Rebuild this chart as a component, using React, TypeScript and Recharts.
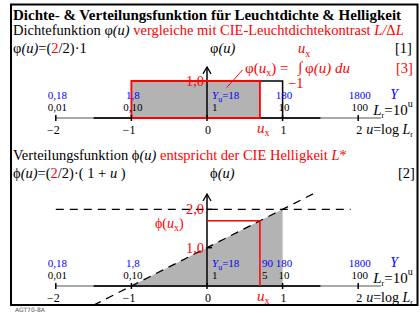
import React from 'react';
import { ComposedChart, Line, Area, XAxis, YAxis, ReferenceDot } from 'recharts';

const FONT = "'Liberation Serif', 'Times New Roman', serif";
const RED = '#ff0000';
const BLUE = '#0000ff';
const GRAY = '#b3b3b3';

// u = log L_r, shared by both panels
const uTicks = [-2, -1, 0, 1, 2];
const uLabels = ['−2', '−1', '0', '1', '2'];
const lumLabels = ['0,01', '0,10', '1', '10', '100'];
const yLabels = ['0,18', '1,8', '18', '180', '1800'];

// chosen u_x = log 5
const ux = 0.7;
const uxLum = '5';
const uxY = '90';

// axis line, thin outer part and thick middle part
const axisThin = [{ u: -2, v: 0 }, { u: 2.3, v: 0 }];
const axisThick = [{ u: -1.5, v: 0 }, { u: 1.5, v: 0 }];

// panel [1]: density phi(u) = 1 on -1..1
const densityFill = [{ u: -1, v: 1 }, { u: ux, v: 1 }];
const densityRed = [
  { u: -1, v: 0 }, { u: -1, v: 1 }, { u: ux, v: 1 }, { u: ux, v: 0 }, { u: -1, v: 0 },
];
const densityBlack = [{ u: ux, v: 1 }, { u: 1, v: 1 }, { u: 1, v: 0 }];
const densityArrow = [{ u: 0, v: 0 }, { u: 0, v: 1.38 }];
const densityPointer = [{ u: 0.26, v: 0.82 }, { u: 0.47, v: 1.3 }];

// panel [2]: distribution phi(u) = 1 + u
const distFill = [{ u: -1, v: 0 }, { u: 1, v: 2 }];
const distDashed = [{ u: -1.5, v: -0.5 }, { u: 1.45, v: 2.45 }];
const distLevel = [{ u: -2, v: 2 }, { u: 1.9, v: 2 }];
const distGuide = [{ u: 0, v: 1.7 }, { u: ux, v: 1.7 }, { u: ux, v: 0 }];
const distArrow = [{ u: 0, v: 0 }, { u: 0, v: 2.4 }];

const AxisTick = (props: any) => {
  const { cx, cy, i } = props;
  const zero = uTicks[i] === 0;
  const tx = zero ? cx + 5 : cx + 1.5;
  const anchor = zero ? 'start' : 'middle';
  const neg = uTicks[i] < 0;
  return (
    <g fontFamily={FONT}>
      <line x1={cx} y1={cy - 3} x2={cx} y2={cy + 3} stroke="#000" strokeWidth={1.5} />
      <text x={tx} y={cy - 19} fontSize={11} fill={BLUE} textAnchor={anchor}>
        {zero ? (
          <>
            <tspan fontStyle="italic">Y</tspan>
            <tspan fontSize={8} dy={3}>u</tspan>
            <tspan dy={-3}>={yLabels[i]}</tspan>
          </>
        ) : yLabels[i]}
      </text>
      <text x={tx} y={cy - 7} fontSize={11} fill="#000" textAnchor={anchor}>{lumLabels[i]}</text>
      <text x={neg ? cx + 4 : cx + 1} y={cy + 16} fontSize={12} fill="#000" textAnchor={neg ? 'end' : 'middle'}>
        {uLabels[i]}
      </text>
    </g>
  );
};

const UxMark = (props: any) => {
  const { cx, cy, withValues } = props;
  return (
    <g fontFamily={FONT}>
      {withValues && (
        <>
          <text x={cx + 2} y={cy - 19} fontSize={11} fill={BLUE}>{uxY}</text>
          <text x={cx + 2} y={cy - 7} fontSize={11} fill="#000">{uxLum}</text>
        </>
      )}
      <text x={cx - 3} y={cy + 15} fontSize={15} fill={RED}>
        <tspan fontStyle="italic">u</tspan>
        <tspan fontSize={10} dy={3}>x</tspan>
      </text>
    </g>
  );
};

const AxisTitles = (props: any) => {
  const { cx, cy } = props;
  return (
    <g fontFamily={FONT}>
      <text x={cx + 32} y={cy - 19} fontSize={14} fill={BLUE} fontStyle="italic">Y</text>
      <text x={cx + 15} y={cy - 3} fontSize={15} fill="#000">
        <tspan fontStyle="italic">L</tspan>
        <tspan fontSize={8} dy={3}>r</tspan>
        <tspan dy={-3}>=10</tspan>
        <tspan fontSize={10} dy={-8}>u</tspan>
      </text>
      <text x={cx + 8} y={cy + 16} fontSize={14} fill="#000">
        <tspan fontStyle="italic">u</tspan>
        <tspan>=log </tspan>
        <tspan fontStyle="italic">L</tspan>
        <tspan fontSize={8} dy={3}>r</tspan>
      </text>
    </g>
  );
};

const ArrowHead = (props: any) => {
  const { cx, cy } = props;
  return <path d={`M${cx - 4},${cy + 7} L${cx},${cy} L${cx + 4},${cy + 7}`} stroke="#000" strokeWidth={1.3} fill="none" />;
};

const LevelLabel = (props: any) => {
  const { cx, cy, text, tick } = props;
  return (
    <g fontFamily={FONT}>
      {tick && <line x1={cx} y1={cy} x2={cx + 5} y2={cy} stroke="#000" strokeWidth={1.5} />}
      <text x={cx - 3} y={cy + 5} fontSize={14.5} fill={RED} textAnchor="end">{text}</text>
    </g>
  );
};

const PhiUxLabel = (props: any) => {
  const { cx, cy } = props;
  return (
    <text x={cx - 52} y={cy + 7} fontSize={14} fill={RED} fontFamily={FONT}>
      ϕ(<tspan fontStyle="italic">u</tspan>
      <tspan fontSize={10} dy={3}>x</tspan>
      <tspan dy={-3}>)</tspan>
    </text>
  );
};

const axes = (domain: [number, number]) => [
  <XAxis key="x" type="number" dataKey="u" domain={[-2.5, 2.5]} allowDataOverflow hide height={0} />,
  <YAxis key="y" type="number" dataKey="v" domain={domain} allowDataOverflow hide width={0} />,
];

const line = (key: string, data: any[], stroke: string, width: number, dash?: string) => (
  <Line
    key={key}
    data={data}
    dataKey="v"
    type="linear"
    stroke={stroke}
    strokeWidth={width}
    strokeDasharray={dash}
    dot={false}
    activeDot={false}
    isAnimationActive={false}
  />
);

const ticks = (withUx: boolean) => [
  ...uTicks.map((u, i) => (
    <ReferenceDot key={`t${i}`} x={u} y={0} r={0} shape={(p: any) => <AxisTick {...p} i={i} />} />
  )),
  <ReferenceDot key="ux" x={ux} y={0} r={0} shape={(p: any) => <UxMark {...p} withValues={withUx} />} />,
  <ReferenceDot key="titles" x={2} y={0} r={0} shape={(p: any) => <AxisTitles {...p} />} />,
];

const DensityChart = () => (
  <ComposedChart width={420} height={160} margin={{ top: 7, right: 24, bottom: 5, left: 18 }}>
    {axes([-1, 3])}
    <Area data={densityFill} dataKey="v" type="linear" baseValue={0} fill={GRAY} fillOpacity={1} stroke="none" isAnimationActive={false} />
    {line('thin', axisThin, '#555', 1.2)}
    {line('thick', axisThick, '#222', 2)}
    {line('black', densityBlack, '#000', 1.5)}
    {line('arrow', densityArrow, '#000', 1.5)}
    {line('red', densityRed, RED, 1.8)}
    {line('pointer', densityPointer, RED, 1)}
    {ticks(false)}
    <ReferenceDot x={0} y={1.38} r={0} shape={(p: any) => <ArrowHead {...p} />} />
    <ReferenceDot x={0} y={1} r={0} shape={(p: any) => <LevelLabel {...p} text="1,0" />} />
  </ComposedChart>
);

const DistributionChart = () => (
  <ComposedChart width={420} height={163} margin={{ top: 21, right: 24, bottom: 4, left: 18 }}>
    {axes([-0.6, 3])}
    <Area data={distFill} dataKey="v" type="linear" baseValue={0} fill={GRAY} fillOpacity={1} stroke="none" isAnimationActive={false} />
    {line('thin', axisThin, '#555', 1.2)}
    {line('thick', axisThick, '#222', 2)}
    {line('level', distLevel, '#000', 1.3, '8 6')}
    {line('dashed', distDashed, '#000', 1.3, '8 6')}
    {line('arrow', distArrow, '#000', 1.5)}
    {line('guide', distGuide, RED, 1.5)}
    {ticks(true)}
    <ReferenceDot x={0} y={2.4} r={0} shape={(p: any) => <ArrowHead {...p} />} />
    <ReferenceDot x={0} y={1} r={0} shape={(p: any) => <LevelLabel {...p} text="1,0" tick />} />
    <ReferenceDot x={0} y={2} r={0} shape={(p: any) => <LevelLabel {...p} text="2,0" tick />} />
    <ReferenceDot x={0} y={1.7} r={0} shape={(p: any) => <PhiUxLabel {...p} />} />
  </ComposedChart>
);

const Texts = () => (
  <svg width={420} height={313} style={{ position: 'absolute', left: 0, top: 0, pointerEvents: 'none' }} fontFamily={FONT}>
    <rect x={11} y={4.5} width={406.5} height={300.5} fill="none" stroke="#000" strokeWidth={2} />
    <text x={13} y={19.5} fontSize={15} fontWeight="bold">
      Dichte- &amp; Verteilungsfunktion für Leuchtdichte &amp; Helligkeit
    </text>
    <text x={13} y={35} fontSize={14.5}>
      Dichtefunktion φ<tspan fontStyle="italic">(u)</tspan>
      <tspan fill={RED}> vergleiche mit CIE-Leuchtdichtekontrast </tspan>
      <tspan fill={RED} fontStyle="italic">L/</tspan>
      <tspan fill={RED}>Δ</tspan>
      <tspan fill={RED} fontStyle="italic">L</tspan>
    </text>
    <text x={13} y={53} fontSize={14.5}>
      φ<tspan fontStyle="italic">(u)</tspan>=(<tspan fill={RED}>2</tspan>/2)·1
    </text>
    <text x={210} y={53} fontSize={14.5}>
      φ<tspan fontStyle="italic">(u)</tspan>
    </text>
    <text x={395} y={53} fontSize={14.5}>[1]</text>
    <text x={298} y={53} fontSize={14.5} fill={RED}>
      <tspan fontStyle="italic">u</tspan>
      <tspan fontSize={10} dy={4}>x</tspan>
    </text>
    <text x={245} y={73} fontSize={15} fill={RED}>
      φ(<tspan fontStyle="italic">u</tspan>
      <tspan fontSize={10} dy={3}>x</tspan>
      <tspan dy={-3}>) =</tspan>
    </text>
    <text x={298} y={72} fontSize={15} fill={RED}>∫</text>
    <text x={305} y={73} fontSize={15} fill={RED}>
      φ<tspan fontStyle="italic">(u) du</tspan>
    </text>
    <text x={288} y={88} fontSize={14.5} fill={RED}>−1</text>
    <text x={396} y={73} fontSize={14.5} fill={RED}>[3]</text>
    <text x={13} y={160} fontSize={14.5}>
      Verteilungsfunktion ϕ<tspan fontStyle="italic">(u)</tspan>
      <tspan fill={RED}> entspricht der CIE Helligkeit </tspan>
      <tspan fill={RED} fontStyle="italic">L</tspan>
      <tspan fill={RED}>*</tspan>
    </text>
    <text x={13} y={178} fontSize={14.5}>
      ϕ<tspan fontStyle="italic">(u)</tspan>=(<tspan fill={RED}>2</tspan>/2)·( 1 + <tspan fontStyle="italic">u</tspan> )
    </text>
    <text x={210} y={178} fontSize={14.5}>
      ϕ<tspan fontStyle="italic">(u)</tspan>
    </text>
    <text x={398} y={178} fontSize={14.5}>[2]</text>
    <text x={15} y={312} fontSize={6} fill="#555" fontFamily="'DejaVu Sans', sans-serif">AGT70-8A</text>
  </svg>
);

export default function App() {
  return (
    <div style={{ position: 'absolute', left: 0, top: 0, width: 420, height: 313, background: '#fff', fontFamily: FONT }}>
      <div style={{ position: 'absolute', left: 0, top: 0 }}>
        <DensityChart />
      </div>
      <div style={{ position: 'absolute', left: 0, top: 150 }}>
        <DistributionChart />
      </div>
      <Texts />
    </div>
  );
}
